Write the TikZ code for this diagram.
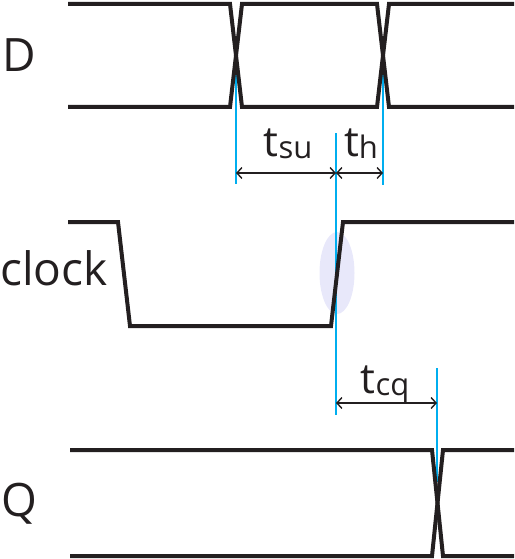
\documentclass[tikz,border=0pt]{standalone}
\usepackage{fontspec}
\setmainfont{Open Sans}
\usetikzlibrary{arrows.meta}
\definecolor{sig}{HTML}{231F20}
\definecolor{markc}{HTML}{00AEEF}
\definecolor{hl}{HTML}{E8E8FA}
\newcommand{\tsub}[1]{{\fontsize{42}{42}\selectfont t}\raisebox{-2pt}{\fontsize{31}{31}\selectfont #1}}
\begin{document}
\begin{tikzpicture}[x=1pt,y=-1pt,
  wave/.style={line width=4pt, color=sig, line join=miter},
  guide/.style={line width=1.4pt, color=markc},
  dimline/.style={line width=1.4pt, color=sig, {Straight Barb[length=5pt,width=11pt]}-{Straight Barb[length=5pt,width=11pt]}},
  lbl/.style={font=\fontsize{46}{46}\selectfont, inner sep=0pt, text=sig},
  tlbl/.style={inner sep=0pt, text=sig, anchor=base}]
\useasboundingbox (0,0) rectangle (514,559);
% highlight on clock edge
\fill[hl] (337,273) ellipse [x radius=17.5, y radius=41];
% guide coordinates
\coordinate (g1t) at (236,55);  \coordinate (g1b) at (236,184);
\coordinate (g2t) at (383,55);  \coordinate (g2b) at (383,185);
\coordinate (g3t) at (336,133); \coordinate (g3b) at (336,415);
\coordinate (g4t) at (437,368); \coordinate (g4b) at (437,482);
\draw[guide] (g1t) -- (g1b);
\draw[guide] (g2t) -- (g2b);
\draw[guide] (g3t) -- (g3b);
\draw[guide] (g4t) -- (g4b);
% D
\draw[wave] (68,4) -- (230,4) -- (242,107) -- (377,107) -- (389,4) -- (514,4);
\draw[wave] (68,107) -- (230,107) -- (242,4) -- (377,4) -- (389,107) -- (514,107);
% clock
\draw[wave] (68,222) -- (118,222) -- (130,326) -- (331,326) -- (343,222) -- (514,222);
% Q
\draw[wave] (70,450) -- (432,450) -- (443,556) -- (514,556);
\draw[wave] (70,556) -- (432,556) -- (443,450) -- (514,450);
% dimension arrows
\coordinate (a1) at (236,173); \coordinate (a2) at (336,173); \coordinate (a3) at (383,173);
\coordinate (b1) at (336,403); \coordinate (b2) at (437,403);
\draw[dimline] (a1) -- (a2);
\draw[dimline] (a2) -- (a3);
\draw[dimline] (b1) -- (b2);
% labels
\node[lbl, anchor=west] (dlab) at (2,55) {D};
\node[lbl, anchor=base west] (clab) at (0,285) {clock};
\node[lbl, anchor=west] (qlab) at (1,504) {Q};
\node[tlbl] (tsu) at (288,156) {\tsub{su}};
\node[tlbl] (th) at (361,156) {\tsub{h}};
\node[tlbl] (tcq) at (385,393) {\tsub{cq}};
\end{tikzpicture}
\end{document}
